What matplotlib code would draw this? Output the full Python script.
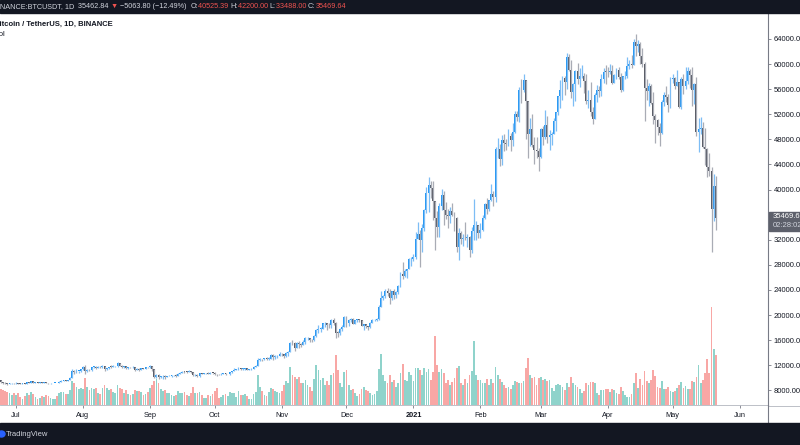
import matplotlib
matplotlib.use("Agg")
import matplotlib.pyplot as plt
import matplotlib.dates as mdates
import matplotlib.transforms as mtransforms
from matplotlib.patches import Rectangle, Ellipse
from matplotlib.lines import Line2D
from matplotlib.ticker import FormatStrFormatter
import numpy as np
import pandas as pd

# daily BTCUSDT candles, 2020-06-23 .. 2021-05-21
start_date = "2020-06-23"
first_open = 9690

close = [
    # jun
    9630, 9290, 9250, 9160, 9010, 9120, 9190, 9140,
    # jul
    9230, 9090, 9060, 9135, 9070, 9340, 9250, 9430, 9230, 9290, 9235, 9300, 9240, 9250, 9200, 9130,
    9155, 9170, 9210, 9160, 9390, 9530, 9610, 9550, 9710, 9930, 11030, 10930, 11100, 11110, 11350,
    # aug
    11800, 11070, 11230, 11190, 11740, 11770, 11600, 11760, 11680, 11880, 11400, 11580, 11780, 11770,
    11860, 11910, 12300, 11960, 11750, 11870, 11520, 11680, 11650, 11750, 11330, 11460, 11330, 11530,
    11470, 11710, 11650,
    # sep
    11920, 11390, 10170, 10470, 10170, 10250, 10370, 10130, 10230, 10340, 10390, 10440, 10330, 10680,
    10790, 10950, 10940, 10930, 11080, 10920, 10420, 10530, 10240, 10740, 10690, 10730, 10770, 10690,
    10840, 10780,
    # oct
    10620, 10570, 10550, 10670, 10790, 10600, 10670, 10920, 11050, 11300, 11370, 11540, 11430, 11430,
    11500, 11320, 11360, 11480, 11750, 11910, 12820, 12980, 12930, 13120, 13030, 13070, 13650, 13280,
    13460, 13560, 13800,
    # nov
    13760, 13550, 14030, 14150, 15590, 15580, 14830, 15480, 15330, 15310, 15700, 16280, 16320, 16070,
    15960, 16720, 17650, 17780, 17820, 18680, 18710, 18420, 18370, 19160, 18720, 17150, 17140, 17720,
    18180, 19700,
    # dec
    18770, 19210, 19420, 18650, 19150, 19360, 19170, 18320, 18550, 18250, 18040, 18800, 19170, 19270,
    19430, 21340, 22800, 23110, 23820, 23460, 22720, 23820, 23230, 23730, 24700, 26490, 26280, 27080,
    27370, 28880, 28920,
    # jan
    29330, 32180, 33000, 31990, 33950, 36770, 39400, 40670, 40240, 38240, 35540, 34010, 37390, 39150,
    36770, 36010, 35790, 36630, 35890, 35470, 30850, 33010, 32100, 32290, 32260, 32500, 30430, 33460,
    34280, 34320, 33110,
    # feb
    33520, 35520, 37670, 36950, 38290, 39260, 38890, 46450, 46510, 44840, 47970, 47410, 47230, 48590,
    47930, 49150, 52120, 51550, 55900, 55840, 57410, 54090, 48890, 49680, 47050, 46280, 46110, 45140,
    # mar
    49590, 48440, 50350, 48370, 48750, 48880, 50970, 52380, 54880, 55860, 57800, 57220, 61180, 59000,
    55630, 56900, 58910, 57650, 58030, 58100, 57350, 54080, 54340, 52300, 51300, 55060, 55840, 55780,
    57620, 58790, 58740,
    # apr
    58720, 58970, 57060, 58200, 59130, 57990, 55950, 58080, 58090, 59770, 60000, 59860, 63580, 62960,
    63160, 61330, 60000, 56150, 55660, 56470, 53800, 51700, 51150, 50050, 49000, 54020, 55030, 54820,
    53560, 57700,
    # may
    57800, 56580, 57170, 53200, 57690, 56440, 57380, 58930, 58240, 55860, 56750, 49150, 49720, 49880,
    46760, 46430, 43540, 42910, 36970, 40525.39, 35469.64,
]

high = [
    9700, 9670, 9340, 9290, 9190, 9190, 9240, 9200,
    9300, 9250, 9130, 9190, 9150, 9380, 9360, 9450, 9440, 9310, 9310, 9340, 9350, 9280, 9270, 9230,
    9190, 9200, 9240, 9230, 9430, 9580, 9690, 9670, 9730, 10080, 11420, 11280, 11340, 11170, 11460,
    11870, 12120, 11470, 11420, 11790, 11910, 11900, 11810, 11810, 12070, 11940, 11620, 11800, 12010,
    11980, 11950, 12470, 12400, 12020, 11890, 11880, 11690, 11720, 11810, 11770, 11540, 11600, 11590,
    11580, 11720, 11790,
    12050, 11950, 11450, 10570, 10560, 10350, 10410, 10440, 10350, 10480, 10410, 10480, 10580, 10800,
    10940, 11100, 11040, 11040, 11180, 11080, 10990, 10580, 10560, 10780, 10760, 10800, 10800, 10950,
    10860, 10850,
    10950, 10670, 10600, 10700, 10800, 10800, 10690, 10940, 11110, 11490, 11440, 11720, 11560, 11550,
    11630, 11540, 11410, 11490, 11820, 12000, 13220, 13170, 13030, 13170, 13350, 13250, 13790, 13860,
    13630, 13680, 14100,
    13900, 13830, 14080, 14260, 15770, 15970, 15770, 15650, 15850, 15480, 15970, 16480, 16480, 16340,
    16180, 16880, 17860, 18480, 18180, 18820, 18960, 18750, 18770, 19420, 19480, 18920, 17450, 17870,
    18350, 19860,
    19920, 19300, 19600, 19510, 19160, 19420, 19380, 19290, 18640, 18560, 18290, 18950, 19410, 19350,
    19570, 21560, 23800, 23280, 24100, 24300, 24100, 23840, 24100, 23800, 24790, 26870, 28420, 27390,
    27400, 29020, 29300,
    29680, 33300, 34780, 33600, 34500, 36940, 40370, 41950, 41380, 41350, 38250, 36630, 37850, 40100,
    39700, 37950, 36850, 37300, 37850, 36420, 35600, 33830, 33450, 32940, 34880, 32920, 32560, 34000,
    38530, 34940, 34340,
    34700, 35990, 37850, 38700, 38310, 40950, 39700, 46750, 48200, 47310, 48680, 48880, 48140, 49700,
    49000, 50650, 52600, 52550, 56370, 57550, 58350, 57530, 54180, 51370, 52040, 48420, 48390, 46700,
    49790, 50200, 52640, 51770, 49450, 49200, 51450, 52400, 54900, 57390, 58150, 58060, 61780, 61680,
    60600, 56940, 58980, 60100, 59450, 59880, 58600, 58430, 55830, 57200, 53230, 55450, 56630, 56560,
    58400, 59370, 59800,
    59470, 60040, 59800, 58500, 59300, 59480, 58650, 58150, 58900, 61200, 60680, 61400, 64000, 64850,
    63800, 63520, 62500, 60400, 57600, 57000, 56760, 55500, 52100, 51200, 50590, 54350, 55500, 56430,
    55200, 57960,
    58460, 57900, 58980, 57200, 58000, 58360, 59500, 59460, 59210, 59600, 57000, 58000, 51400, 51560,
    50700, 49800, 46600, 45800, 43550, 42540, 42200,
]

low = [
    9560, 9220, 9000, 9050, 8830, 8960, 9080, 9070,
    9090, 9050, 9020, 9050, 8940, 9060, 9210, 9230, 9150, 9140, 9200, 9160, 9200, 9150, 9170, 9080,
    9090, 9120, 9100, 9140, 9150, 9310, 9490, 9440, 9520, 9640, 9900, 10630, 10820, 10850, 10970,
    11230, 10600, 11010, 11100, 11120, 11550, 11350, 11530, 11580, 11640, 11130, 11280, 11470, 11600,
    11690, 11660, 11700, 11850, 11620, 11570, 11480, 11380, 11510, 11600, 11120, 11330, 11150, 11330,
    11440, 11450, 11500,
    11570, 11170, 10000, 9960, 9880, 10000, 9880, 9850, 10110, 10220, 10200, 10280, 10200, 10270,
    10650, 10710, 10700, 10810, 10890, 10780, 10350, 10360, 10140, 10210, 10580, 10630, 10590, 10640,
    10650, 10650,
    10430, 10370, 10500, 10520, 10620, 10530, 10550, 10520, 10820, 11040, 11250, 11200, 11260, 11280,
    11250, 11220, 11300, 11330, 11400, 11690, 11890, 12700, 12720, 12880, 12800, 12780, 13000, 12900,
    12980, 13120, 13440,
    13550, 13200, 13280, 13520, 14100, 15180, 14350, 14710, 14800, 14840, 15280, 15460, 15980, 15700,
    15780, 15850, 16550, 17200, 17350, 17740, 18170, 17620, 18010, 18000, 18500, 16330, 16500, 16880,
    17520, 18180,
    18100, 18330, 18860, 18570, 18510, 18850, 18900, 18200, 17650, 17910, 17570, 18020, 18710, 19000,
    19050, 19280, 21230, 22350, 22750, 23060, 21810, 22350, 22600, 22700, 23420, 24500, 25800, 26100,
    25880, 27320, 27850,
    28620, 28980, 32050, 27680, 30050, 33330, 36300, 36500, 38720, 35100, 30420, 32420, 32400, 36700,
    34410, 35360, 33860, 34720, 35770, 33400, 30070, 28850, 31400, 31000, 31930, 30830, 29240, 29840,
    31950, 32000, 32300,
    32300, 33420, 35370, 36160, 36570, 38220, 37350, 37990, 45000, 43720, 43990, 46200, 46300, 47020,
    46200, 47000, 48970, 50900, 50710, 53860, 55480, 48000, 45000, 47000, 46800, 44100, 45100, 43000,
    45000, 47050, 48100, 47500, 46300, 47100, 48900, 49300, 51900, 53000, 54300, 55050, 56080, 58900,
    54600, 53300, 54120, 56800, 56300, 57800, 55450, 53650, 53000, 51700, 50430, 51250, 53950, 54700,
    54900, 57000, 56900,
    57920, 58400, 56900, 56980, 57600, 57680, 55480, 55700, 57650, 57850, 59180, 59360, 59860, 61300,
    62000, 60000, 59590, 50930, 54200, 53400, 53600, 50400, 47500, 48750, 46930, 48800, 53260, 53900,
    52330, 53050,
    56950, 56040, 56500, 53000, 52900, 55200, 56000, 56900, 56200, 53400, 53700, 48600, 46000, 48800,
    46600, 43900, 42000, 42200, 30000, 35000, 33488,
]

# volume, thousand BTC
volume = [
    48, 45, 42, 39, 36, 34, 28, 34,
    28, 34, 22, 17, 25, 34, 28, 36, 31, 22, 17, 20, 25, 22, 28, 25, 20, 17, 17, 25, 34, 36, 36, 31,
    31, 42, 67, 62, 50, 45, 48,
    45, 76, 50, 42, 48, 45, 48, 34, 31, 48, 56, 48, 42, 45, 36, 34, 56, 48, 45, 34, 42, 31, 28, 31,
    42, 39, 39, 36, 28, 31, 36,
    48, 56, 67, 73, 62, 45, 39, 42, 34, 34, 28, 25, 28, 39, 34, 34, 36, 28, 25, 34, 50, 34, 34, 36,
    28, 20, 20, 28, 25, 31,
    39, 48, 20, 22, 28, 31, 25, 36, 34, 34, 22, 39, 28, 28, 31, 25, 17, 17, 31, 36, 85, 50, 39, 28,
    25, 36, 48, 45, 39, 36, 34,
    39, 56, 67, 62, 106, 84, 78, 73, 78, 62, 62, 70, 56, 50, 39, 73, 112, 98, 70, 76, 56, 67, 56, 84,
    90, 140, 98, 62, 50, 92,
    98, 56, 42, 45, 34, 25, 31, 45, 50, 42, 39, 34, 28, 31, 39, 101, 143, 84, 67, 62, 84, 64, 70, 50,
    62, 90, 115, 70, 67, 92, 84,
    67, 104, 104, 98, 84, 104, 92, 101, 70, 92, 193, 112, 92, 101, 90, 62, 70, 56, 64, 76, 104, 109,
    62, 56, 73, 62, 84, 95, 179, 84, 70,
    70, 62, 62, 73, 56, 73, 62, 106, 84, 73, 64, 56, 48, 50, 45, 56, 67, 64, 62, 62, 67, 104, 132, 84,
    76, 78, 56, 76,
    78, 70, 73, 67, 70, 48, 39, 56, 59, 56, 50, 42, 62, 50, 78, 62, 56, 50, 45, 34, 39, 62, 56, 64,
    64, 62, 34, 28, 42, 42, 45,
    45, 36, 45, 42, 34, 31, 50, 39, 28, 22, 22, 31, 62, 90, 48, 73, 56, 95, 67, 62, 70, 98, 81, 50,
    48, 67, 45, 45, 50, 39,
    36, 39, 48, 56, 64, 48, 53, 45, 45, 67, 64, 78, 112, 62, 70, 90, 129, 90, 274, 157, 140,
]

price_ticks = list(range(8000, 64001, 4000))
month_starts = ["2020-07-01", "2020-08-01", "2020-09-01", "2020-10-01", "2020-11-01", "2020-12-01",
                "2021-01-01", "2021-02-01", "2021-03-01", "2021-04-01", "2021-05-01", "2021-06-01"]
month_labels = ["Jul", "Aug", "Sep", "Oct", "Nov", "Dec", "2021", "Feb", "Mar", "Apr", "May", "Jun"]

FONT = ["Liberation Sans", "DejaVu Sans"]
W, H = 800, 445
DARK = "#131722"
LIGHT = "#d1d4dc"
RED = "#ef5350"


def fy(py):
    # pixel row from top -> figure fraction
    return 1 - py / H


close = np.array(close, dtype=float)
high = np.array(high, dtype=float)
low = np.array(low, dtype=float)
volume = np.array(volume, dtype=float)
opn = np.concatenate([[first_open], close[:-1]])
dates = pd.date_range(start_date, periods=len(close), freq="D")
x = mdates.date2num(dates)
up = close >= opn

fig = plt.figure(figsize=(8, 4.45), dpi=100)
fig.patch.set_facecolor("white")

rect = [0, fy(405), 768 / W, fy(13) - fy(405)]
ax_vol = fig.add_axes(rect)
ax = fig.add_axes(rect, sharex=ax_vol)
ax.patch.set_alpha(0)

# volume
vol_col = np.where(up, "#8fd3cb", "#f8a7a5")
ax_vol.bar(x, volume, width=0.8, color=vol_col, linewidth=0)
ax_vol.set_ylim(0, 392 * 2.8)
ax_vol.set_axis_off()

# candles
ax.vlines(x[up], low[up], high[up], color="#7dbdf5", lw=0.9)
ax.vlines(x[~up], low[~up], high[~up], color="#a9acb5", lw=0.9)
body_lo = np.minimum(opn, close)
body_h = np.maximum(np.abs(close - opn), 90)
ax.bar(x[up], body_h[up], bottom=body_lo[up], width=0.88, color="#2196f3", linewidth=0)
ax.bar(x[~up], body_h[~up], bottom=body_lo[~up], width=0.88, color="#50535e", linewidth=0)

jul1 = mdates.date2num(pd.Timestamp("2020-07-01"))
ax.set_xlim(jul1 - 16 / 2.16, jul1 + 752 / 2.16)
ax.set_ylim(5673, 68143)

for s in ["top", "left"]:
    ax.spines[s].set_visible(False)
ax.spines["right"].set_color("#787b86")
ax.spines["right"].set_linewidth(0.8)
ax.spines["bottom"].set_color("#b2b5be")
ax.spines["bottom"].set_linewidth(0.6)

ax.yaxis.tick_right()
ax.set_yticks(price_ticks)
ax.yaxis.set_major_formatter(FormatStrFormatter("%.2f"))
ax.tick_params(axis="y", direction="out", length=2.5, width=0.6, color="#787b86",
               labelcolor="#131722", labelsize=5.5, pad=1.5)
ax.set_xticks(mdates.date2num(pd.to_datetime(month_starts)))
ax.set_xticklabels(month_labels)
ax.tick_params(axis="x", direction="out", length=2.5, width=0.6, color="#787b86",
               labelcolor="#131722", labelsize=5.3, pad=2.5)
for lab in ax.get_xticklabels() + ax.get_yticklabels():
    lab.set_family(FONT)
ax.get_xticklabels()[6].set_fontweight("bold")

# axis lines that run past the plot
fig.add_artist(Line2D([768 / W, 1], [fy(405.5), fy(405.5)], color="#b2b5be", lw=0.6))
fig.add_artist(Line2D([768 / W, 768 / W], [fy(423), fy(405)], color="#787b86", lw=0.8))

# last price box
fig.add_artist(Rectangle((768.5 / W, fy(231)), 32 / W, 19 / H, transform=fig.transFigure,
                         color="#5d606b", zorder=5))
fig.text(773 / W, fy(216.5), "35469.64", color="white", fontsize=5.5, family=FONT,
         va="center", zorder=6)
fig.text(773 / W, fy(225.5), "02:28:02", color="#d1d4dc", fontsize=5.5, family=FONT,
         va="center", zorder=6)

# dark bars top and bottom
fig.add_artist(Rectangle((0, fy(13)), 1, 13 / H, transform=fig.transFigure, color=DARK, zorder=5))
fig.add_artist(Rectangle((0, 0), 1, fy(423), transform=fig.transFigure, color=DARK, zorder=5))

renderer = fig.canvas.get_renderer()
ident = mtransforms.IdentityTransform()


def width_of(s, size, weight="normal"):
    t = fig.text(0, 0, s, fontsize=size, fontweight=weight, family=FONT, transform=ident)
    w = t.get_window_extent(renderer).width
    t.remove()
    return w


def text_row(x0, y, parts, size, weight="normal"):
    xx = x0
    for s, c in parts:
        t = fig.text(xx, y, s, color=c, fontsize=size, fontweight=weight, family=FONT,
                     va="center", ha="left", transform=ident, zorder=7)
        xx += t.get_window_extent(renderer).width
    return xx


hsize = 5.2
header = [("BINANCE:BTCUSDT, 1D  ", LIGHT), ("35462.84 ", LIGHT), ("\u25bc ", RED),
          ("\u22125063.80 (\u221212.49%)  ", LIGHT), ("O:", LIGHT), ("40525.39 ", RED),
          ("H:", LIGHT), ("42200.00 ", RED), ("L:", LIGHT), ("33488.00 ", RED),
          ("C:", LIGHT), ("35469.64", RED)]
text_row(-width_of("BI", hsize), H - 6.5, header, hsize)

text_row(-width_of("B", 5.5, "bold"), H - 24, [("Bitcoin / TetherUS, 1D, BINANCE", "#131722")],
         5.5, "bold")
text_row(-width_of("V", 5.5), H - 34, [("Vol", "#131722")], 5.5)

# footer logo
fig.add_artist(Ellipse((1.5 / W, fy(434)), 7 / W, 6 / H, transform=fig.transFigure,
                       color="#2962ff", zorder=6))
text_row(6, H - 434, [("TradingView", LIGHT)], 5.5)

fig.savefig("out.png", dpi=100)
